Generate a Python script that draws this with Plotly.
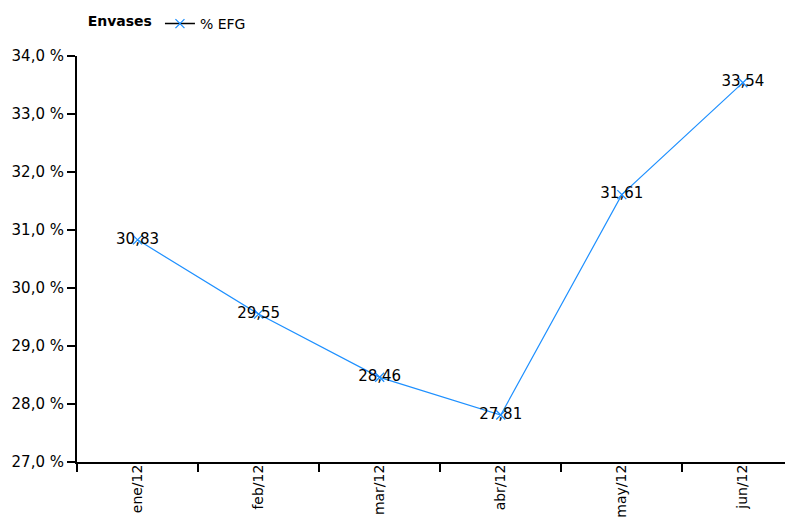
import plotly.graph_objects as go

months = ["ene/12", "feb/12", "mar/12", "abr/12", "may/12", "jun/12"]
efg = [30.83, 29.55, 28.46, 27.81, 31.61, 33.54]
series_name = "% EFG"
legend_title = "Envases"

FONT = "DejaVu Sans"
BLUE = "#1E90FF"

labels = [f"{v:.2f}".replace(".", ",") for v in efg]

fig = go.Figure()
fig.add_trace(go.Scatter(
    x=months, y=efg, mode="lines+markers+text",
    text=labels, textposition="middle center",
    textfont=dict(family=FONT, size=15, color="#000000"),
    line=dict(color=BLUE, width=1.2),
    marker=dict(symbol="x-thin", size=9, line=dict(color=BLUE, width=1.3)),
    name=series_name, showlegend=False, cliponaxis=False,
))
# legend entry (black line with blue marker, as in the reference)
fig.add_trace(go.Scatter(
    x=[None], y=[None], mode="lines+markers",
    line=dict(color="#000000", width=1.5),
    marker=dict(symbol="x-thin", size=9, line=dict(color=BLUE, width=1.3)),
    name=series_name, showlegend=True,
))

fig.update_layout(
    width=793, height=517,
    margin=dict(l=69, r=0, t=48, b=63, autoexpand=False),
    paper_bgcolor="white", plot_bgcolor="white",
    separators=", ",
    font=dict(family=FONT, size=14, color="#000000"),
    legend=dict(
        orientation="h", x=0.012, xanchor="left", xref="paper",
        y=1.0, yanchor="top", yref="container",
        title=dict(text=f"<b>{legend_title}</b>", side="left", font=dict(size=14)),
        font=dict(size=14), itemwidth=30,
    ),
    showlegend=True,
)

fig.update_xaxes(
    type="category", range=[-0.5, 5.48], automargin=False,
    tickson="boundaries", ticks="outside", ticklen=8, tickwidth=2, tickcolor="#000",
    tickangle=-90, tickfont=dict(family=FONT, size=14), ticklabelstandoff=-5,
    showline=True, linecolor="#000", linewidth=2, showgrid=False, zeroline=False,
)
fig.update_yaxes(
    range=[27, 34], dtick=1, tickformat=".1f", ticksuffix=" %", automargin=False,
    ticks="outside", ticklen=8, tickwidth=2, tickcolor="#000",
    tickfont=dict(family=FONT, size=15),
    showline=True, linecolor="#000", linewidth=2, showgrid=False, zeroline=False,
)

fig.write_html("out.html")
